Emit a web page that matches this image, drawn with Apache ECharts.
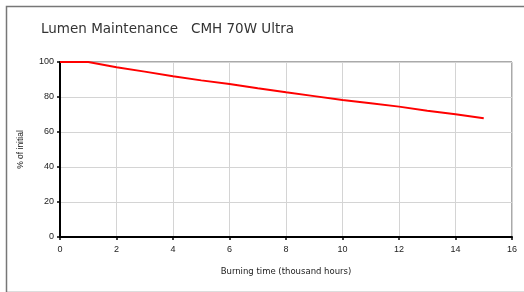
<!DOCTYPE html>
<html><head><meta charset="utf-8">
<script src="https://cdn.jsdelivr.net/npm/echarts@6/dist/echarts.min.js"></script>
<style>html,body{margin:0;padding:0;background:#fff}#c{width:524px;height:292px}</style>
</head><body><div id="c"></div>
<script>
var titleText = 'Lumen Maintenance   CMH 70W Ultra';
var xName = 'Burning time (thousand hours)';
var yName = '% of initial';
var hours = [0, 1, 2, 3, 4, 5, 6, 7, 8, 9, 10, 11, 12, 13, 14, 15];
var lumen = [100, 100, 97, 94.5, 91.8, 89.5, 87.4, 85, 82.7, 80.5, 78.3, 76.4, 74.5, 72.2, 70.1, 67.8];

var chart = echarts.init(document.getElementById('c'), null, {renderer: 'canvas'});
chart.setOption({
  animation: false,
  backgroundColor: '#fff',
  graphic: [{
    type: 'rect', left: 4, top: 4, z: -1,
    shape: {width: 540, height: 286},
    style: {fill: 'none', stroke: '#777', lineWidth: 1.5}
  }],
  title: {
    text: titleText, left: 36, top: 17,
    textStyle: {fontFamily: 'DejaVu Sans', fontWeight: 'normal', fontSize: 13.5, color: '#333'}
  },
  grid: {left: 60, right: 12, top: 62, bottom: 55, show: true, borderColor: '#555', borderWidth: 1},
  xAxis: {
    type: 'value', min: 0, max: 16, interval: 2,
    name: xName, nameLocation: 'middle', nameGap: 30,
    nameTextStyle: {fontFamily: 'DejaVu Sans', fontSize: 8.5, color: '#222'},
    axisLine: {show: true, onZero: false, lineStyle: {color: '#000', width: 2}},
    axisTick: {show: true, length: 3, lineStyle: {color: '#000', width: 1.5}},
    axisLabel: {fontFamily: 'Liberation Sans', fontSize: 9, color: '#222', margin: 8},
    splitLine: {show: true, lineStyle: {color: '#d4d4d4', width: 1}}
  },
  yAxis: {
    type: 'value', min: 0, max: 100, interval: 20,
    name: yName, nameLocation: 'middle', nameGap: 35, nameRotate: 90,
    nameTextStyle: {fontFamily: 'Liberation Sans', fontSize: 8.5, color: '#222'},
    axisLine: {show: true, lineStyle: {color: '#000', width: 2}},
    axisTick: {show: true, length: 3, lineStyle: {color: '#000', width: 1.5}},
    axisLabel: {fontFamily: 'Liberation Sans', fontSize: 9, color: '#222', margin: 6},
    splitLine: {show: true, lineStyle: {color: '#d4d4d4', width: 1}}
  },
  series: [{
    type: 'line',
    data: hours.map(function (h, i) { return [h, lumen[i]]; }),
    showSymbol: false, symbol: 'none',
    lineStyle: {color: '#ff0000', width: 2},
    z: 5
  }]
});
</script></body></html>
